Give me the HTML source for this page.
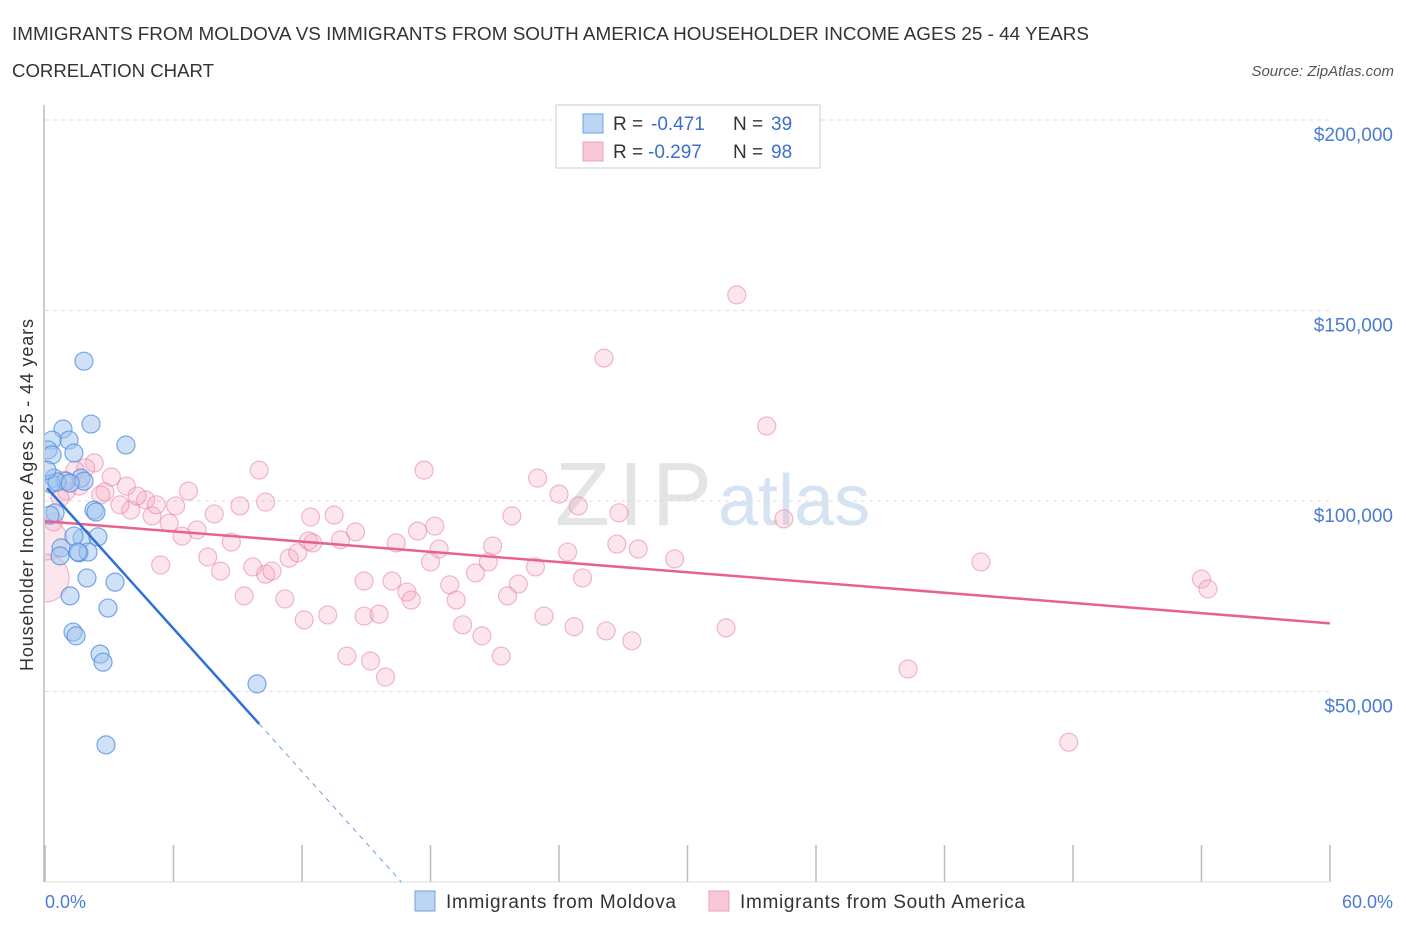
<!DOCTYPE html>
<html><head><meta charset="utf-8"><style>
body{margin:0;background:#fff;font-family:"Liberation Sans",sans-serif;}
svg text{font-family:"Liberation Sans",sans-serif;}
</style></head><body>
<svg id="chart" width="1406" height="930">
<defs><clipPath id="plotclip"><rect x="45" y="100" width="1300" height="782"/></clipPath></defs>
<text x="12" y="40" font-size="18" fill="#333" textLength="1077" lengthAdjust="spacingAndGlyphs">IMMIGRANTS FROM MOLDOVA VS IMMIGRANTS FROM SOUTH AMERICA HOUSEHOLDER INCOME AGES 25 - 44 YEARS</text>
<text x="12" y="77" font-size="18" fill="#333" textLength="202" lengthAdjust="spacingAndGlyphs">CORRELATION CHART</text>
<text x="1394" y="76" font-size="15" fill="#555" font-style="italic" text-anchor="end">Source: ZipAtlas.com</text>
<text x="712" y="525" font-size="90" fill="#e4e4e4" text-anchor="end" font-family="Liberation Serif" textLength="157">ZIP</text>
<text x="718" y="525" font-size="72" fill="#d6e3f3">atlas</text>
<g id="grid"></g>
<line x1="44" y1="105" x2="44" y2="882" stroke="#bbb" stroke-width="1.5"/>
<line x1="44" y1="882" x2="1330" y2="882" stroke="#ddd"/>
<g id="pts" clip-path="url(#plotclip)"></g>
<g id="lines"></g>
<text x="33" y="495" font-size="18" fill="#333" text-anchor="middle" transform="rotate(-90 33 495)" textLength="352">Householder Income Ages 25 - 44 years</text>
<text x="45" y="908" font-size="18" fill="#4a7cd1">0.0%</text>
<text x="1393" y="908" font-size="18" fill="#4a7cd1" text-anchor="end">60.0%</text>
<g>
<rect x="556" y="105" width="264" height="63" fill="#fff" stroke="#ccc"/>
<rect x="583" y="114" width="20" height="19" fill="#bcd5f5" stroke="#6fa0e0"/>
<rect x="583" y="142" width="20" height="19" fill="#f8c8d7" stroke="#eaa0b8"/>
<text x="613" y="130" font-size="19" fill="#333">R =</text>
<text x="651" y="130" font-size="19" fill="#3c6fc9">-0.471</text>
<text x="733" y="130" font-size="19" fill="#333">N =</text>
<text x="771" y="130" font-size="19" fill="#3c6fc9">39</text>
<text x="613" y="158" font-size="19" fill="#333">R =</text>
<text x="648" y="158" font-size="19" fill="#3c6fc9">-0.297</text>
<text x="733" y="158" font-size="19" fill="#333">N =</text>
<text x="771" y="158" font-size="19" fill="#3c6fc9">98</text>
</g>
<g>
<rect x="415" y="891" width="20" height="20" fill="#bcd5f5" stroke="#6fa0e0"/>
<text x="446" y="908" font-size="19" fill="#333" textLength="230">Immigrants from Moldova</text>
<rect x="709" y="891" width="20" height="20" fill="#f8c8d7" stroke="#eaa0b8"/>
<text x="740" y="908" font-size="19" fill="#333" textLength="285">Immigrants from South America</text>
</g>
</svg>
<script>
const yTicks=[50000,100000,150000,200000];
const yTickLabels=["$50,000","$100,000","$150,000","$200,000"];
const xTicks=[0,6,12,18,24,30,36,42,48,54,60];
const blueX=[1.82,2.15,3.78,0.84,1.12,0.33,0.14,1.35,0.42,1.68,0.98,1.82,0.28,0.56,1.17,2.29,2.38,0.47,1.73,1.35,0.75,1.59,2.01,0.70,3.27,1.96,1.17,2.94,1.31,1.45,2.57,2.71,9.90,2.85,0.23,0.33,0.09,2.47,1.54];
const blueY=[136.7,120.2,114.7,118.9,116.0,116.0,113.4,112.6,106.0,106.0,105.2,105.2,104.5,105.0,104.7,97.6,97.1,96.9,90.3,90.8,87.7,86.4,86.6,85.6,78.7,79.8,75.1,71.9,65.6,64.6,59.8,57.7,52.0,36.0,96.3,112.1,108.1,90.6,86.6];
const pinkX=[32.3,26.1,33.7,17.7,10.0,23.0,24.0,21.8,24.9,26.8,18.2,17.4,34.5,14.5,12.4,13.5,13.8,12.5,12.3,16.4,18.4,20.9,24.4,26.7,27.7,29.4,18.0,20.7,22.9,25.1,20.1,18.9,22.1,14.9,16.2,16.9,17.1,19.2,21.6,14.9,15.6,13.2,12.1,19.5,23.3,24.7,26.2,27.4,20.4,21.3,14.1,15.2,15.9,31.8,40.3,43.7,54.0,54.3,47.8,11.2,9.3,10.3,10.6,11.4,11.8,9.7,8.2,7.6,8.7,5.4,6.4,7.1,5.8,5.0,4.0,3.5,4.7,5.2,6.1,7.9,9.1,10.3,6.7,4.3,3.8,3.1,2.8,2.6,2.3,1.9,1.4,1.6,1.0,0.7,0.4,0.1,0.0,0.9];
const pinkY=[154.1,137.5,119.7,108.1,108.1,106.0,101.8,96.1,98.7,96.9,93.4,92.1,95.3,91.9,95.8,96.3,89.8,89.0,89.5,89.0,87.4,88.2,86.6,88.7,87.4,84.8,84.0,84.0,82.7,79.8,81.1,78.0,78.2,79.0,79.0,76.1,74.0,74.0,75.1,69.8,70.3,70.1,68.8,67.5,69.8,67.0,65.9,63.3,64.6,59.3,59.3,58.0,53.8,66.7,55.9,84.0,79.5,76.9,36.7,74.3,75.1,80.8,81.6,85.0,86.4,82.7,81.6,85.3,89.2,83.2,90.8,92.4,94.2,96.1,97.6,99.0,100.3,99.0,98.7,96.6,98.7,99.7,102.6,101.3,103.9,106.3,102.4,101.6,110.0,108.7,108.1,103.9,102.6,100.8,94.5,89.8,79.8,105.5];
const pinkR=pinkX.map((v,i)=>i==95?20:(i==96?24:9));
const blueTrend=[104,-6.25];
const pinkTrend=[94.7,-0.447];
const ns="http://www.w3.org/2000/svg";
const sx=p=>45+p/60*1285;
const sy=v=>882-v/200000*762;
const sk=k=>sy(k*1000);
function mk(tag,attrs,parent){const e=document.createElementNS(ns,tag);for(const k in attrs)e.setAttribute(k,attrs[k]);document.getElementById(parent).appendChild(e);return e;}
yTicks.forEach((t,i)=>{
 const l=mk('line',{x1:45,x2:1330,y1:sy(t),y2:sy(t),stroke:'#ddd','stroke-dasharray':'4,4'},'grid');
 
 
 const tx=mk('text',{x:1393,y:sy(t)+21,'font-size':19,fill:'#4a7cd1','text-anchor':'end'},'grid');
 tx.textContent=yTickLabels[i];
 
 
});
xTicks.forEach(t=>{
 const l=mk('line',{x1:sx(t),x2:sx(t),y1:845,y2:882,stroke:'#bbb','stroke-width':1.5},'grid');
 
 
});
pinkX.forEach((x,i)=>{
 const c=mk('circle',{cx:sx(x),cy:sk(pinkY[i]),r:pinkR[i],fill:'rgba(245,170,195,0.3)',stroke:'rgba(230,130,165,0.55)','stroke-width':1.2},'pts');
 
 
});
blueX.forEach((x,i)=>{
 const c=mk('circle',{cx:sx(x),cy:sk(blueY[i]),r:9,fill:'rgba(160,196,240,0.5)',stroke:'rgba(80,140,220,0.75)','stroke-width':1.2},'pts');
 
 
});
const pl=mk('line',{x1:sx(0),y1:sk(pinkTrend[0]),x2:sx(60),y2:sk(pinkTrend[0]+pinkTrend[1]*60),stroke:'#e8628e','stroke-width':2.5},'lines');


const bl=mk('line',{x1:sx(0.1),y1:sk(blueTrend[0]+blueTrend[1]*0.1),x2:sx(10),y2:sk(blueTrend[0]+blueTrend[1]*10),stroke:'#2f6fd6','stroke-width':2.5},'lines');


const xEnd=-blueTrend[0]/blueTrend[1];
const bd=mk('line',{x1:sx(10),y1:sk(blueTrend[0]+blueTrend[1]*10),x2:sx(xEnd),y2:sk(0),stroke:'#6f9de0','stroke-width':1,'stroke-dasharray':'5,5'},'lines');


</script>
</body></html>
